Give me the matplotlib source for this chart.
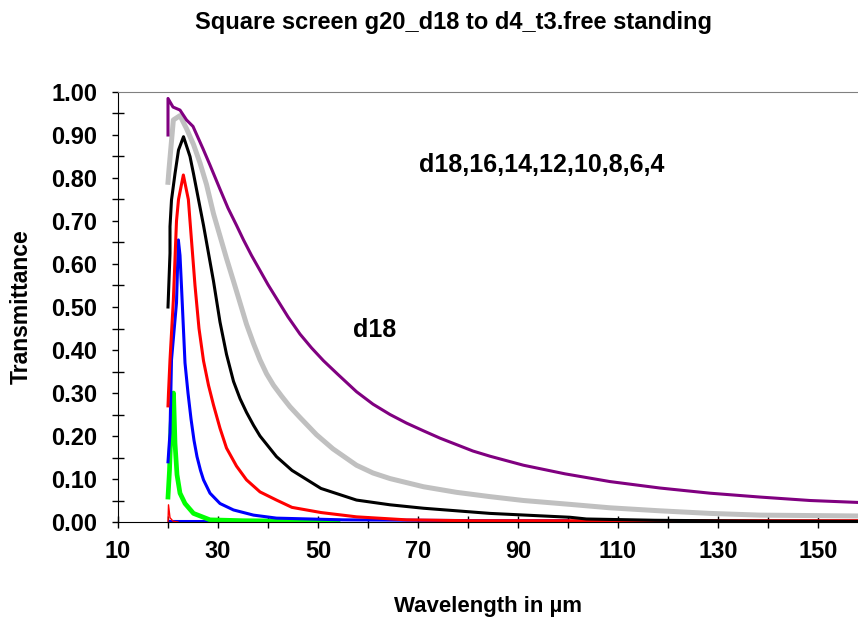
import matplotlib
matplotlib.use("Agg")
import matplotlib.pyplot as plt
import numpy as np

plt.rcParams['font.family'] = ['Liberation Sans', 'DejaVu Sans']
plt.rcParams['font.weight'] = 'bold'

# wavelength (um) / transmittance for each wire diameter
lam_d18 = [20, 20, 21, 22.4, 23.7, 25, 27, 28.4, 30.4, 32, 33.7, 35.1, 36.7, 38.4, 40, 41.7, 44,
           46.4, 48.7, 51.1, 54, 57.7, 61, 64.4, 67.7, 71.1, 74.4, 77.7, 81, 84.4, 91.1, 99.4,
           108.4, 118.4, 128.4, 138.4, 148.4, 158]
t_d18 = [0.90, 0.985, 0.965, 0.958, 0.935, 0.92, 0.868, 0.83, 0.774, 0.73, 0.69, 0.656, 0.62,
         0.585, 0.552, 0.52, 0.477, 0.437, 0.405, 0.375, 0.343, 0.303, 0.274, 0.25, 0.23, 0.212,
         0.195, 0.18, 0.165, 0.153, 0.132, 0.112, 0.094, 0.079, 0.067, 0.058, 0.05, 0.0455]

lam_d16 = [20, 20.2, 21.07, 22.4, 23.7, 25.1, 26.4, 27.7, 29.1, 30.4, 31.7, 33.1, 34.4, 35.7, 37.1,
           38.4, 39.7, 41.1, 42.7, 44.4, 46.4, 49.7, 53, 57.7, 61, 64.4, 71.1, 77.7, 84.4, 91.1,
           100.4, 108.4, 118.4, 128.4, 138.4, 148.4, 158]
t_d16 = [0.79, 0.82, 0.935, 0.945, 0.915, 0.878, 0.835, 0.785, 0.717, 0.665, 0.613, 0.56, 0.51,
         0.46, 0.415, 0.377, 0.345, 0.318, 0.293, 0.268, 0.243, 0.203, 0.17, 0.132, 0.114, 0.101,
         0.082, 0.069, 0.059, 0.05, 0.041, 0.033, 0.026, 0.02, 0.016, 0.015, 0.014]

lam_d14 = [20, 20.4, 20.4, 20.7, 21.4, 22.1, 23.1, 24.4, 25.1, 26.1, 27.1, 28.1, 29.1, 30.4, 31.7,
           33.1, 34.4, 35.7, 37.1, 38.4, 41.7, 44.8, 50.6, 57.7, 64.4, 71.1, 84.4, 100.4, 103.7,
           117.4, 139, 158]
t_d14 = [0.50, 0.625, 0.687, 0.749, 0.81, 0.865, 0.896, 0.85, 0.81, 0.75, 0.69, 0.625, 0.56,
         0.465, 0.39, 0.327, 0.287, 0.255, 0.225, 0.2, 0.152, 0.12, 0.078, 0.051, 0.04, 0.032, 0.02,
         0.011, 0.007, 0.004, 0.002, 0.0015]

lam_d12 = [20, 20.1, 20.4, 21.07, 21.7, 22.1, 23.07, 24.07, 24.4, 25.4, 26.2, 27.1, 28.1, 29.1,
           30.4, 31.7, 33.7, 35.7, 38.4, 41.7, 44.8, 50.6, 57.7, 67.7, 80, 100, 130, 158]
t_d12 = [0.27, 0.30, 0.377, 0.516, 0.70, 0.75, 0.807, 0.75, 0.70, 0.55, 0.45, 0.375, 0.318, 0.272,
         0.218, 0.172, 0.13, 0.098, 0.07, 0.051, 0.034, 0.022, 0.012, 0.005, 0.003, 0.003, 0.003,
         0.003]

lam_d10 = [20, 20.4, 20.7, 21.7, 22.07, 22.4, 22.7, 23.4, 24.0, 24.6, 25.2, 25.8, 26.5, 27.1, 28.4,
           30.4, 33.1, 37.1, 41.7, 55, 70, 85, 100]
t_d10 = [0.14, 0.207, 0.377, 0.51, 0.656, 0.62, 0.547, 0.37, 0.30, 0.24, 0.19, 0.152, 0.12, 0.098,
         0.067, 0.043, 0.028, 0.016, 0.009, 0.005, 0.004, 0.003, 0.003]

lam_d8 = [20, 20.3, 20.6, 20.9, 21.1, 21.4, 21.8, 22.4, 23.4, 25.1, 28.4, 35, 45, 54]
t_d8 = [0.058, 0.12, 0.22, 0.283, 0.30, 0.183, 0.11, 0.067, 0.043, 0.02, 0.005, 0.003, 0.002, 0.002]

lam_d6 = [20, 20.1, 20.4, 21, 22]
t_d6 = [0.0, 0.04, 0.01, 0.002, 0.0]

lam_d4 = [20, 30]
t_d4 = [0.002, 0.002]

fig = plt.figure(figsize=(8.58, 6.21), dpi=100)
ax = fig.add_axes([118/858, 1-522/621, 1-118/858, (522-92)/621])

ax.plot(lam_d4, t_d4, color='#0000FF', lw=2.2, solid_capstyle='butt')
ax.plot(lam_d6, t_d6, color='#FF0000', lw=1.0)
ax.plot(lam_d8, t_d8, color='#00FF00', lw=3.4)
ax.plot(lam_d10, t_d10, color='#0000FF', lw=2.2)
ax.plot(lam_d12, t_d12, color='#FF0000', lw=2.2)
ax.plot(lam_d14, t_d14, color='#000000', lw=2.2)
ax.plot(lam_d16, t_d16, color='#C0C0C0', lw=3.6)
ax.plot(lam_d18, t_d18, color='#800080', lw=2.2)

ax.set_xlim(10, 158)
ax.set_ylim(0, 1)
ax.set_xticks(np.arange(10, 151, 20))
ax.set_xticks(np.arange(20, 151, 20), minor=True)
ax.set_yticks(np.arange(0, 1.01, 0.1))
ax.set_yticks(np.arange(0.05, 1.0, 0.1), minor=True)
ax.set_yticklabels(['%.2f' % v for v in np.arange(0, 1.01, 0.1)])

ax.tick_params(axis='y', which='major', direction='out', length=4, width=1, labelsize=17, pad=11)
ax.tick_params(axis='y', which='minor', direction='inout', length=8, width=1)
ax.tick_params(axis='x', which='both', direction='inout', length=8, width=1, labelsize=17, pad=9)

ax.spines['right'].set_visible(False)
ax.spines['top'].set_color('#808080')
for s in ['left', 'bottom']:
    ax.spines[s].set_color('black')

ax.set_xlabel('Wavelength in µm', fontsize=16, fontweight='bold', labelpad=24)
ax.set_ylabel('Transmittance', fontsize=16.5, fontweight='bold', labelpad=13)
fig.text(454/858, 1-22/621, 'Square screen g20_d18 to d4_t3.free standing', fontsize=17,
         fontweight='bold', ha='center', va='center')

ax.text(94.8, 0.83, 'd18,16,14,12,10,8,6,4', fontsize=18, fontweight='bold', ha='center', va='center')
ax.text(61.4, 0.447, 'd18', fontsize=18, fontweight='bold', ha='center', va='center')

fig.savefig('out.png', dpi=100)
